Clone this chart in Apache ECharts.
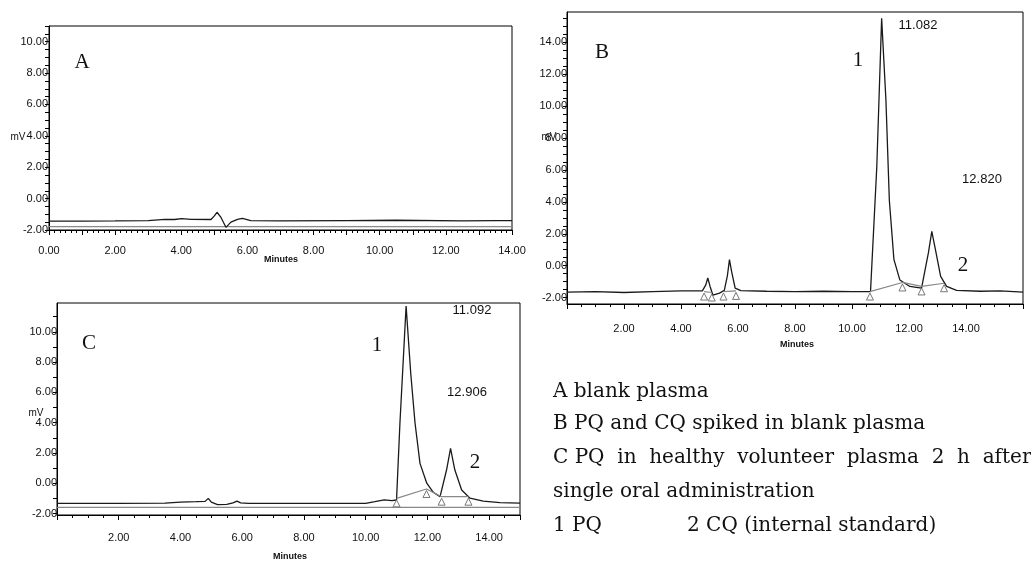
<!DOCTYPE html>
<html style="height: 100%">
<head>
    <meta charset="utf-8">
    <script src="https://cdn.jsdelivr.net/npm/echarts@6/dist/echarts.min.js"></script>
</head>
<body style="height: 100%; margin: 0; background: #fff">
    <div id="container" style="width: 1031px; height: 561px"></div>
    <script type="text/javascript">
        // chromatogram traces, [minutes, mV]
        var aTrace = [[0, -1.43], [1, -1.43], [2, -1.42], [3, -1.4], [3.5, -1.32], [3.8, -1.33], [4.0, -1.27], [4.3, -1.32], [4.9, -1.33], [5.0, -1.1], [5.08, -0.87], [5.2, -1.2], [5.35, -1.83], [5.5, -1.5], [5.7, -1.32], [5.85, -1.26], [6.1, -1.4], [7, -1.42], [9, -1.4], [10.5, -1.38], [12.5, -1.42], [13.5, -1.4], [14, -1.4]];
        var aBase = [[0, -1.79], [14, -1.79]];

        var bTrace = [[0, -1.65], [1, -1.62], [2, -1.68], [3, -1.62], [4, -1.58], [4.75, -1.58], [4.87, -1.2], [4.94, -0.77], [5.02, -1.3], [5.12, -1.85], [5.35, -1.72], [5.52, -1.55], [5.63, -0.6], [5.7, 0.38], [5.78, -0.4], [5.9, -1.4], [6.1, -1.56], [7, -1.6], [8, -1.62], [9, -1.6], [10, -1.62], [10.65, -1.62], [10.87, 6.2], [11.04, 15.5], [11.19, 10.4], [11.31, 4.1], [11.47, 0.4], [11.68, -0.9], [12.03, -1.3], [12.44, -1.4], [12.68, 0.8], [12.8, 2.15], [12.95, 0.8], [13.11, -0.67], [13.32, -1.3], [13.67, -1.55], [14.5, -1.6], [15.2, -1.58], [16, -1.66]];
        var bBase1 = [[4.81, -1.62], [5.08, -1.68]];
        var bBase2 = [[5.49, -1.62], [5.93, -1.58]];
        var bBase3 = [[10.63, -1.62], [11.77, -1.05], [12.44, -1.3], [13.23, -1.1]];

        var cTrace = [[0, -1.33], [2, -1.33], [3.5, -1.32], [4.0, -1.25], [4.5, -1.22], [4.8, -1.2], [4.9, -1.0], [5.0, -1.25], [5.2, -1.42], [5.5, -1.4], [5.7, -1.3], [5.83, -1.18], [5.95, -1.3], [6.2, -1.33], [8, -1.33], [10, -1.33], [10.3, -1.22], [10.6, -1.1], [10.85, -1.15], [11.0, -1.11], [11.11, 3.96], [11.31, 11.7], [11.46, 7.26], [11.6, 3.96], [11.76, 1.31], [11.98, 0], [12.19, -0.6], [12.41, -0.89], [12.46, -0.88], [12.62, 0.87], [12.75, 2.3], [12.89, 0.87], [13.11, -0.45], [13.38, -0.99], [13.81, -1.18], [14.35, -1.28], [15, -1.32]];
        var cBaseFlat = [[0, -1.59], [15, -1.59]];
        var cBase = [[11.0, -1.0], [11.97, -0.38], [12.46, -0.89], [13.33, -0.89]];

        var yLabelsB = [-2, 0, 2, 4, 6, 8, 10, 12, 14];
        var yLabelsC = [-2, 0, 2, 4, 6, 8, 10];

        var notes = [
            'A blank plasma',
            'B PQ and CQ spiked in blank plasma',
            'C PQ  in  healthy  volunteer  plasma  2  h  after',
            'single oral administration'
        ];

        var numFont = { fontFamily: 'Liberation Sans', fontSize: 11, color: '#111' };
        var fmt = function (v) { return v.toFixed(2); };

        function ticksFrom(a, b, step) {
            var out = [];
            for (var v = a; v <= b + 1e-9; v += step) out.push(+v.toFixed(2));
            return out;
        }

        function xAx(gi, max, margin, showEnds) {
            return {
                type: 'value', gridIndex: gi, min: 0, max: max, interval: gi === 0 ? 1 : 2,
                axisLine: { onZero: false, lineStyle: { color: '#000' } },
                axisTick: { length: 5, lineStyle: { color: '#000' } },
                minorTick: { show: true, splitNumber: gi === 0 ? 6 : 4, length: 3, lineStyle: { color: '#000' } },
                splitLine: { show: false },
                axisLabel: Object.assign({
                    margin: margin, showMinLabel: showEnds, showMaxLabel: showEnds,
                    formatter: function (v) {
                        if (v % 2 !== 0) return '';
                        if (!showEnds && (v === 0 || v === max)) return '';
                        return fmt(v);
                    }
                }, numFont)
            };
        }

        var dom = document.getElementById('container');
        var myChart = echarts.init(dom);

        var traceStyle = { color: '#1a1a1a', width: 1.3 };
        var grayStyle = { color: '#888', width: 1.2 };
        function line(gi, data, style, tri) {
            return {
                type: 'line', xAxisIndex: gi, yAxisIndex: gi, data: data,
                showSymbol: !!tri, symbol: 'triangle', symbolSize: 7, symbolOffset: [0, 5],
                itemStyle: { color: '#fff', borderColor: '#777', borderWidth: 1 },
                lineStyle: style, animation: false, silent: true, z: tri ? 3 : 2
            };
        }

        var texts = [];
        function txt(x, y, s, font, align) {
            texts.push({
                type: 'text', x: x, y: y, silent: true,
                style: { text: s, font: font, fill: '#111', align: align || 'center', verticalAlign: 'middle', textAlign: align || 'center', textVerticalAlign: 'middle' }
            });
        }
        var serifBig = '21px "Liberation Serif"';
        var small = '13px "Liberation Sans"';
        txt(82, 62, 'A', serifBig);
        txt(602, 52, 'B', serifBig);
        txt(858, 60, '1', serifBig);
        txt(918, 25, '11.082', small);
        txt(982, 179, '12.820', small);
        txt(963, 265, '2', serifBig);
        txt(89, 343, 'C', serifBig);
        txt(377, 345, '1', serifBig);
        txt(472, 310, '11.092', small);
        txt(467, 392, '12.906', small);
        txt(475, 462, '2', serifBig);
        var mv = '10px "Liberation Sans"';
        txt(18, 137, 'mV', mv);
        txt(549, 137, 'mV', mv);
        txt(36, 413, 'mV', mv);
        var mins = 'bold 9px "Liberation Sans"';
        txt(281, 260, 'Minutes', mins);
        txt(797, 345, 'Minutes', mins);
        txt(290, 557, 'Minutes', mins);
        var serifNote = '20px "DejaVu Serif"';
        var noteY = [392, 424, 458, 492];
        notes.forEach(function (s, i) { txt(553, noteY[i], s, serifNote, 'left'); });
        txt(553, 526, '1 PQ', serifNote, 'left');
        txt(687, 526, '2 CQ (internal standard)', serifNote, 'left');

        var option = {
            backgroundColor: '#fff',
            animation: false,
            grid: [
                { left: 49, top: 26, width: 463, height: 204, show: true, borderColor: '#000', borderWidth: 1 },
                { left: 567, top: 12, width: 456, height: 292, show: true, borderColor: '#000', borderWidth: 1 },
                { left: 57, top: 303, width: 463, height: 212, show: true, borderColor: '#000', borderWidth: 1 }
            ],
            xAxis: [xAx(0, 14, 15, true), xAx(1, 16, 19, false), xAx(2, 15, 17, false)],
            yAxis: [
                {
                    type: 'value', gridIndex: 0, min: -2, max: 11, interval: 2,
                    axisLine: { show: true, onZero: false, lineStyle: { color: '#000' } },
                    axisTick: { show: true, length: 4, lineStyle: { color: '#000' } },
                    minorTick: { show: true, splitNumber: 4, length: 4, lineStyle: { color: '#000' } },
                    splitLine: { show: false },
                    axisLabel: Object.assign({ margin: 1, showMaxLabel: false, formatter: function (v) { return v > 10 ? '' : fmt(v); } }, numFont)
                },
                {
                    type: 'value', gridIndex: 1, min: -2.4, max: 15.9,
                    axisLine: { show: true, onZero: false, lineStyle: { color: '#000' } },
                    axisTick: { show: true, length: 4, customValues: ticksFrom(-2, 15.5, 0.5), lineStyle: { color: '#000' } },
                    splitLine: { show: false },
                    axisLabel: Object.assign({ margin: 0, customValues: yLabelsB, formatter: fmt }, numFont)
                },
                {
                    type: 'value', gridIndex: 2, min: -2.1, max: 11.9,
                    axisLine: { show: true, onZero: false, lineStyle: { color: '#000' } },
                    axisTick: { show: true, length: 4, customValues: ticksFrom(-2, 11, 1), lineStyle: { color: '#000' } },
                    splitLine: { show: false },
                    axisLabel: Object.assign({ margin: 0, customValues: yLabelsC, formatter: fmt }, numFont)
                }
            ],
            series: [
                line(0, aBase, grayStyle),
                line(0, aTrace, traceStyle),
                line(1, bTrace, traceStyle),
                line(1, bBase1, grayStyle, true),
                line(1, bBase2, grayStyle, true),
                line(1, bBase3, grayStyle, true),
                line(2, cBaseFlat, grayStyle),
                line(2, cTrace, traceStyle),
                line(2, cBase, grayStyle, true)
            ],
            graphic: texts
        };
        if (option && typeof option === "object") {
            myChart.setOption(option, true);
        }
    </script>
</body>
</html>
